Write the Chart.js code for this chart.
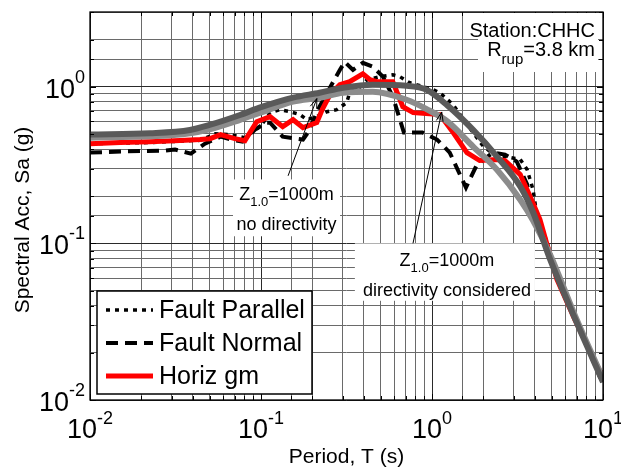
<!DOCTYPE html>
<html><head><meta charset="utf-8">
<script src="https://cdn.jsdelivr.net/npm/chart.js@4.4.1/dist/chart.umd.min.js"></script>
<style>html,body{margin:0;padding:0;background:#fff}#wrap{width:621px;height:472px}</style>
</head><body><div id="wrap"><canvas id="c" width="621" height="472"></canvas></div>
<script>
// ---- data (period in s, spectral acceleration in g) ----
const periodsParallel = [0.01,0.0224,0.044,0.054,0.066,0.08,0.099,0.113,0.129,0.148,0.169,0.186,0.212,0.243,0.277,0.317,0.33,0.38,0.417,0.494,0.59,0.65,0.74,0.89,1.02,1.11,1.33,1.53,1.74,2.0,2.4,2.7,3.28,3.6,3.9,4.1,4.6,5.6,7.3,9.6,10];
const saParallel = [0.433,0.44,0.455,0.5,0.495,0.473,0.556,0.683,0.714,0.693,0.664,0.616,0.644,0.693,0.714,0.791,0.915,1.0,1.108,1.158,1.19,1.158,1.06,1.0,0.957,0.916,0.768,0.616,0.51,0.415,0.358,0.358,0.343,0.296,0.22,0.153,0.109,0.056,0.029,0.0147,0.0137];

const periodsNormal = [0.01,0.0152,0.0275,0.0314,0.0389,0.047,0.058,0.0667,0.078,0.0923,0.106,0.113,0.134,0.176,0.188,0.22,0.253,0.289,0.309,0.345,0.394,0.452,0.516,0.59,0.685,0.88,1.07,1.27,1.58,1.83,2.27,2.67,3.13,3.6,3.9,4.58,5.6,7.3,9.6,10];
const saNormal = [0.38,0.386,0.391,0.397,0.374,0.433,0.48,0.46,0.446,0.532,0.59,0.59,0.48,0.46,0.51,0.746,0.985,1.28,1.44,1.28,1.42,1.34,1.16,0.864,0.51,0.51,0.46,0.38,0.227,0.318,0.38,0.369,0.333,0.238,0.153,0.106,0.055,0.0283,0.014,0.0133];

const periodsHoriz = [0.01,0.015,0.0224,0.0336,0.044,0.0503,0.058,0.0703,0.0805,0.0944,0.113,0.134,0.154,0.176,0.212,0.228,0.253,0.289,0.33,0.394,0.434,0.476,0.59,0.675,0.776,1.11,1.33,1.6,1.9,2.4,2.67,3.28,3.75,4.28,5.37,6.84,9.6,10];
const saHoriz = [0.433,0.44,0.446,0.453,0.46,0.466,0.494,0.466,0.453,0.598,0.644,0.556,0.616,0.548,0.59,0.714,0.889,1.03,1.076,1.21,1.108,1.076,1.076,0.746,0.683,0.664,0.51,0.38,0.338,0.343,0.338,0.275,0.199,0.142,0.059,0.0327,0.0152,0.0147];

const periodsModel = [0.01,0.0224,0.0384,0.05,0.0754,0.1,0.154,0.22,0.302,0.45,0.71,0.93,1.23,1.74,2.4,3.28,3.9,4.9,7.0,10];
const saDirectivity = [0.495,0.505,0.53,0.57,0.66,0.74,0.851,0.915,0.985,1.03,1.015,0.957,0.76,0.53,0.358,0.231,0.158,0.0793,0.0314,0.013];
const saNoDirectivity = [0.473,0.482,0.505,0.535,0.615,0.685,0.803,0.85,0.916,0.929,0.826,0.72,0.6,0.415,0.295,0.19,0.14,0.085,0.0328,0.0137];

const xTickExponents = [-2,-1,0,1];
const yTickExponents = [-2,-1,0];
const legendLabels = ['Fault Parallel','Fault Normal','Horiz gm'];
const xTitle = 'Period, T (s)';
const yTitle = 'Spectral Acc, Sa (g)';

const pts = (xs, ys) => xs.map((x,i)=>({x, y: ys[i]}));
const FONT = '"Liberation Sans", Arial, sans-serif';
const isMajor = v => Math.abs(Math.log10(v) - Math.round(Math.log10(v))) < 1e-9;

const styles = [
  {color:'#000000', width:3.5, dash:[4,5]},
  {color:'#000000', width:4, dash:[12,7]},
  {color:'#ff0000', width:5, dash:[]}
];

const decor = {
  id:'decor',
  afterDraw(chart){
    const {ctx, chartArea:a, scales:{x, y}} = chart;
    const X = v => x.getPixelForValue(v), Y = v => y.getPixelForValue(v);
    ctx.save();
    // inward ticks
    ctx.strokeStyle='#000'; ctx.lineWidth=1;
    x.ticks.forEach(t=>{const p=Math.round(X(t.value))+0.5; const L=isMajor(t.value)?6:4;
      ctx.beginPath(); ctx.moveTo(p,a.bottom); ctx.lineTo(p,a.bottom-L); ctx.moveTo(p,a.top); ctx.lineTo(p,a.top+L); ctx.stroke();});
    y.ticks.forEach(t=>{const p=Math.round(Y(t.value))+0.5; const L=isMajor(t.value)?6:4;
      ctx.beginPath(); ctx.moveTo(a.left,p); ctx.lineTo(a.left+L,p); ctx.moveTo(a.right,p); ctx.lineTo(a.right-L,p); ctx.stroke();});

    // white annotation boxes
    ctx.fillStyle='#fff';
    ctx.fillRect(a.right-125, a.top+1, 120, 59);
    const b1 = {l:X(0.0686), r:X(0.29), t:Y(0.256), b:Y(0.111)};
    ctx.fillRect(b1.l, b1.t, b1.r-b1.l, b1.b-b1.t);
    const b2 = {l:X(0.354), r:X(4.0), t:Y(0.1), b:Y(0.043)};
    ctx.fillRect(b2.l, b2.t, b2.r-b2.l, b2.b-b2.t);

    // station text
    ctx.fillStyle='#000'; ctx.textBaseline='alphabetic';
    ctx.font='20px '+FONT; ctx.textAlign='right';
    ctx.fillText('Station:CHHC', a.right-8, a.top+25);
    const rr = a.right-8;
    const w2 = ctx.measureText('=3.8 km').width;
    ctx.fillText('=3.8 km', rr, a.top+44);
    ctx.font='15px '+FONT; const wsub = ctx.measureText('rup').width;
    ctx.fillText('rup', rr-w2, a.top+52);
    ctx.font='20px '+FONT;
    ctx.fillText('R', rr-w2-wsub, a.top+44);

    // Z annotations
    function zLabel(cx, base, second){
      ctx.textAlign='left';
      ctx.font='18px '+FONT; const wz=ctx.measureText('Z').width, we=ctx.measureText('=1000m').width;
      ctx.font='13px '+FONT; const ws=ctx.measureText('1.0').width;
      const tot=wz+ws+we; let s=cx-tot/2;
      ctx.font='18px '+FONT; ctx.fillText('Z', s, base);
      ctx.font='13px '+FONT; ctx.fillText('1.0', s+wz, base+6);
      ctx.font='18px '+FONT; ctx.fillText('=1000m', s+wz+ws, base);
      ctx.textAlign='center'; ctx.fillText(second, cx, base+30);
    }
    zLabel((b1.l+b1.r)/2, b1.t+21, 'no directivity');
    zLabel((b2.l+b2.r)/2+2, b2.t+23, 'directivity considered');

    // arrows
    function arrow(t0,s0,t1,s1){
      const x0=X(t0),y0=Y(s0),x1=X(t1),y1=Y(s1);
      ctx.strokeStyle='#000'; ctx.fillStyle='#000'; ctx.lineWidth=1;
      ctx.beginPath(); ctx.moveTo(x0,y0); ctx.lineTo(x1,y1); ctx.stroke();
      const ang=Math.atan2(y1-y0,x1-x0), L=10, W=0.35;
      ctx.beginPath(); ctx.moveTo(x1,y1);
      ctx.lineTo(x1-L*Math.cos(ang-W), y1-L*Math.sin(ang-W));
      ctx.moveTo(x1,y1);
      ctx.lineTo(x1-L*Math.cos(ang+W), y1-L*Math.sin(ang+W));
      ctx.stroke();
    }
    arrow(0.144,0.27,0.212,0.84);
    arrow(0.774,0.1,1.14,0.69);

    // legend
    const lg={l:a.left+7, t:a.bottom-109, w:215, h:103};
    ctx.fillStyle='#fff'; ctx.fillRect(lg.l,lg.t,lg.w,lg.h);
    ctx.strokeStyle='#000'; ctx.lineWidth=1.5; ctx.strokeRect(lg.l,lg.t,lg.w,lg.h);
    legendLabels.forEach((lab,i)=>{
      const yy=lg.t+19+i*33, st=styles[i];
      ctx.strokeStyle=st.color; ctx.lineWidth=st.width; ctx.setLineDash(st.dash); ctx.lineCap='butt';
      ctx.beginPath(); ctx.moveTo(lg.l+9,yy); ctx.lineTo(lg.l+56,yy); ctx.stroke();
      ctx.setLineDash([]);
      ctx.fillStyle='#000'; ctx.font='25px '+FONT; ctx.textAlign='left'; ctx.textBaseline='middle';
      ctx.fillText(lab, lg.l+62, yy+1);
    });
    ctx.textBaseline='alphabetic';

    // frame
    ctx.strokeStyle='#000'; ctx.lineWidth=1.3;
    ctx.strokeRect(a.left, a.top, a.right-a.left, a.bottom-a.top);

    // tick labels
    ctx.fillStyle='#000';
    xTickExponents.forEach(e=>{
      const px=X(Math.pow(10,e));
      ctx.font='27px '+FONT; const w10=ctx.measureText('10').width;
      ctx.font='18px '+FONT; const we=ctx.measureText(String(e)).width;
      const s=px-(w10+we)/2; ctx.textAlign='left';
      ctx.font='27px '+FONT; ctx.fillText('10', s, a.bottom+38);
      ctx.font='18px '+FONT; ctx.fillText(String(e), s+w10, a.bottom+24);
    });
    yTickExponents.forEach(e=>{
      const py=Y(Math.pow(10,e));
      ctx.font='18px '+FONT; const we=ctx.measureText(String(e)).width;
      ctx.textAlign='right';
      ctx.fillText(String(e), a.left-5, py-4);
      ctx.font='27px '+FONT; ctx.fillText('10', a.left-5-we, py+11);
    });

    // axis titles
    ctx.font='21px '+FONT; ctx.textAlign='center';
    ctx.fillText(xTitle, (a.left+a.right)/2, a.bottom+63);
    ctx.save(); ctx.translate(29, 220); ctx.rotate(-Math.PI/2);
    ctx.fillText(yTitle, 0, 0); ctx.restore();
    ctx.restore();
  }
};

const gridColor = c => (c.tick && isMajor(c.tick.value)) ? '#2a2a2a' : '#6a6a6a';

new Chart(document.getElementById('c'), {
  type:'line',
  data:{datasets:[
    {label:'Z1.0=1000m directivity considered', data:pts(periodsModel,saDirectivity), borderColor:'#5a5a5a', borderWidth:6, cubicInterpolationMode:'monotone', pointRadius:0, order:1},
    {label:'Z1.0=1000m no directivity', data:pts(periodsModel,saNoDirectivity), borderColor:'#8c8c8c', borderWidth:6, cubicInterpolationMode:'monotone', pointRadius:0, order:2},
    {label:legendLabels[2], data:pts(periodsHoriz,saHoriz), borderColor:styles[2].color, borderWidth:styles[2].width, tension:0, pointRadius:0, order:3},
    {label:legendLabels[0], data:pts(periodsParallel,saParallel), borderColor:styles[0].color, borderWidth:styles[0].width, borderDash:styles[0].dash, tension:0, pointRadius:0, order:4},
    {label:legendLabels[1], data:pts(periodsNormal,saNormal), borderColor:styles[1].color, borderWidth:styles[1].width, borderDash:styles[1].dash, tension:0, pointRadius:0, order:5}
  ]},
  options:{
    responsive:false, animation:false, devicePixelRatio:1,
    layout:{padding:{top:12,right:18,left:0,bottom:0}},
    plugins:{legend:{display:false}, tooltip:{enabled:false}},
    scales:{
      x:{type:'logarithmic', min:0.01, max:10,
         ticks:{display:false, autoSkip:false},
         grid:{color:gridColor, lineWidth:1, drawTicks:false},
         border:{display:false},
         afterFit(s){s.height=72;}},
      y:{type:'logarithmic', min:0.01, max:3,
         ticks:{display:false, autoSkip:false},
         grid:{color:gridColor, lineWidth:1, drawTicks:false},
         border:{display:false},
         afterFit(s){s.width=90;}}
    }
  },
  plugins:[decor]
});
</script></body></html>
